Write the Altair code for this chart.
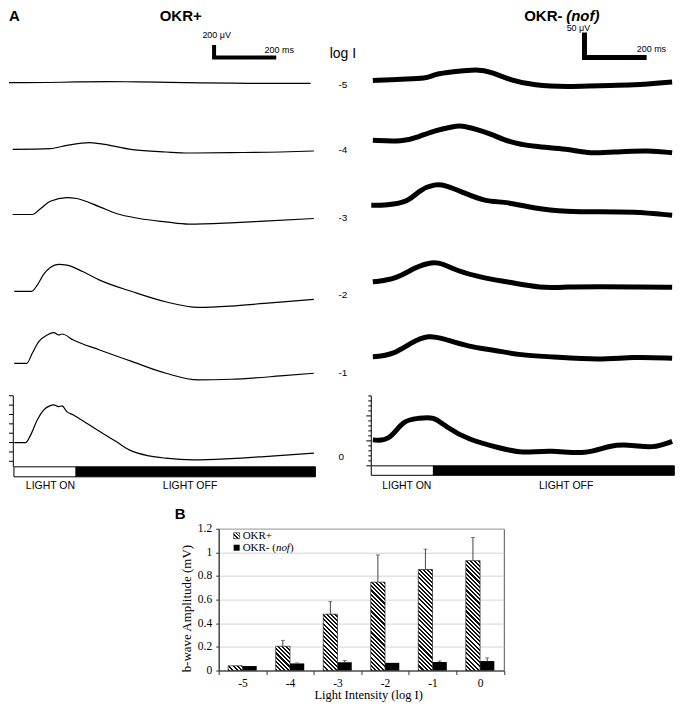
import altair as alt
import pandas as pd

# ---------------- Panel A data: time (ms from light onset) and response (uV, relative to baseline)
levels = ["-5", "-4", "-3", "-2", "-1", "0"]

okr_plus_t = [
    [-16, 100, 200, 300, 400, 500, 600, 700, 800, 955],
    [-4, 117, 171, 244, 276, 381, 489, 562, 698, 857, 965],
    [-4, 59, 86, 117, 170, 202, 276, 329, 403, 488, 562, 698, 806, 965],
    [1, 57, 75, 96, 117, 144, 170, 223, 276, 382, 488, 594, 698, 806, 965],
    [1, 41, 59, 80, 107, 128, 144, 155, 191, 276, 381, 489, 594, 698, 857, 965],
    [1, 38, 54, 75, 96, 117, 128, 144, 155, 170, 191, 234, 276, 329, 371, 435, 488, 578, 698, 806, 965],
]
okr_plus_v = [
    [0, 3, 12, 16, 14, 6, -2, -8, -10, -10],
    [0, 11, 64, 107, 91, -5, -43, -59, -53, -43, -27],
    [0, 0, 96, 213, 272, 256, 122, 16, -64, -118, -155, -134, -107, -64],
    [0, 0, 101, 277, 384, 432, 421, 314, 181, -6, -166, -256, -235, -192, -128],
    [0, 0, 160, 346, 453, 490, 453, 469, 373, 213, 26, -160, -267, -256, -203, -160],
    [0, 0, 123, 363, 523, 592, 603, 576, 587, 496, 443, 310, 176, 16, -117, -213, -250, -277, -256, -224, -170],
]
okr_minus_t = [
    [5, 101, 175, 206, 259, 344, 386, 450, 524, 630, 736, 841, 968],
    [5, 101, 153, 206, 259, 291, 333, 386, 439, 524, 630, 704, 789, 894, 968],
    [0, 48, 122, 153, 206, 238, 291, 365, 439, 524, 630, 736, 841, 968],
    [5, 79, 143, 196, 228, 270, 365, 439, 545, 630, 736, 841, 968],
    [5, 69, 132, 185, 228, 312, 397, 482, 577, 736, 841, 968],
    [5, 58, 101, 153, 201, 238, 312, 418, 482, 577, 693, 767, 841, 905, 968],
]
okr_minus_v = [
    [0, 3, 3, 13, 17, 23, 17, 0, -10, -13, -10, -10, -3],
    [0, -3, 7, 20, 27, 30, 23, 13, -3, -13, -17, -27, -23, -20, -25],
    [0, 0, 7, 30, 43, 40, 27, 7, 7, -7, -13, -13, -13, -20],
    [0, 5, 30, 40, 37, 23, 7, 0, -13, -10, -10, -10, -11],
    [0, 3, 30, 43, 37, 20, 13, 3, 0, -7, 0, -3],
    [2, -1, 42, 45, 49, 29, 2, -15, -25, -18, -28, -8, -8, -15, -1],
]

# ---------------- Panel B data
cats = ["-5", "-4", "-3", "-2", "-1", "0"]
series = ["OKR+", "OKR-"]
okr_plus_mean = [0.04, 0.205, 0.477, 0.748, 0.855, 0.93]
okr_plus_err = [0.0, 0.05, 0.106, 0.23, 0.172, 0.196]
okr_minus_mean = [0.038, 0.06, 0.07, 0.065, 0.072, 0.08]
okr_minus_err = [0.0, 0.004, 0.015, 0.0, 0.008, 0.027]

# ---------------- layout constants (pixels of the figure)
SANS = "Liberation Sans"
SERIF = "Liberation Serif"
SX = 666.0 / 674.0         # horizontal squeeze so the page never overflows
T_PX = 63 / 200.0          # px per ms (both columns, before squeeze)
KL, KR = 0.0625, 0.5       # px per uV (left, right)
TOP_H = 514
LEFT_IMG_W, RIGHT_IMG_W = 352, 322
L_X0, R_X0 = 8, 360        # image x of column origins
L_ON, R_ON = 13, 375       # image x of light onset
left_base = [82.3, 149, 214.3, 291.3, 363.3, 442.7]
right_base = [80, 140, 205, 281.7, 356.7, 441]


def xl(px):
    return (px - L_ON) / T_PX


def xr(px):
    return (px - R_ON) / T_PX


def yl(row):
    return (TOP_H + 8 - row) / KL


def yr(row):
    return (TOP_H + 8 - row) / KR


def column(ts, vs, bases, xf, yf, k, x0, width, stroke_w, interp):
    xs = alt.Scale(domain=[xf(x0), xf(x0 + width)], nice=False, zero=False)
    ys = alt.Scale(domain=[0, TOP_H / k], nice=False, zero=False)
    X = lambda f: alt.X(f, type="quantitative", scale=xs, axis=None)
    Y = lambda f: alt.Y(f, type="quantitative", scale=ys, axis=None)
    rows = []
    for lev, t, v, b in zip(levels, ts, vs, bases):
        for ti, vi in zip(t, v):
            rows.append({"level": lev, "t": ti, "y": yf(b) + vi})
    traces = alt.Chart(pd.DataFrame(rows)).mark_line(
        color="black", strokeWidth=stroke_w, interpolate=interp, strokeJoin="round"
    ).encode(x=X("t"), y=Y("y"), detail="level:N")
    return traces, X, Y


def texts(rows, X, Y, **mk):
    df = pd.DataFrame(rows, columns=["label", "px", "py"])
    return alt.Chart(df).mark_text(color="black", font=SANS, **mk).encode(
        x=X("px"), y=Y("py"), text="label:N")


# ----- left column (OKR+)
tr_l, XL, YL = column(okr_plus_t, okr_plus_v, left_base, xl, yl, KL, L_X0, LEFT_IMG_W, 1.2, "monotone")
b0 = yl(left_base[-1])
ax_l = pd.DataFrame(
    [{"t": -2, "t2": -2, "y": b0 - 390, "y2": b0 + 750}]
    + [{"t": xl(8), "t2": -2, "y": b0 + v, "y2": b0 + v} for v in range(-300, 751, 150)]
)
axis_l = alt.Chart(ax_l).mark_rule(color="black", strokeWidth=1).encode(
    x=XL("t"), x2="t2", y=YL("y"), y2="y2")
light_l = pd.DataFrame([
    {"t": 0, "t2": 200, "y": yl(477), "y2": yl(467), "c": "on"},
    {"t": 200, "t2": 970, "y": yl(477), "y2": yl(467), "c": "off"},
])
lightbar_l = alt.Chart(light_l).mark_rect(stroke="black", strokeWidth=1).encode(
    x=XL("t"), x2="t2", y=YL("y"), y2="y2",
    fill=alt.Fill("c:N", scale=alt.Scale(domain=["on", "off"], range=["white", "black"]), legend=None))
sb_l = pd.DataFrame({"t": [644, 644, 844], "y": [yl(57) + 200, yl(57), yl(57)], "o": [0, 1, 2]})
scalebar_l = alt.Chart(sb_l).mark_line(color="black", strokeWidth=4, strokeJoin="miter").encode(
    x=XL("t"), y=YL("y"), order="o:Q")

left = alt.layer(
    tr_l, axis_l, lightbar_l, scalebar_l,
    texts([("A", xl(8), yl(8))], XL, YL, fontSize=15, fontWeight="bold", align="left", baseline="top"),
    texts([("B", xl(176), yl(522))], XL, YL, fontSize=15, fontWeight="bold", align="left",
          baseline="bottom"),
    texts([("OKR+", xl(182), yl(8))], XL, YL, fontSize=15, fontWeight="bold",
          align="center", baseline="top"),
    texts([("200 \u03bcV", xl(204), yl(34.5)), ("200 ms", xl(267), yl(49.5))], XL, YL,
          fontSize=9, align="left", baseline="middle"),
    texts([("log I", xl(333), yl(58))], XL, YL, fontSize=14, align="left", baseline="alphabetic"),
    texts([(lv, xl(342), yl(r)) for lv, r in zip(levels, [84.5, 150, 217.5, 294.5, 373.5, 457])],
          XL, YL, fontSize=10, align="left", baseline="middle"),
    texts([("LIGHT ON", xl(50), yl(486)), ("LIGHT OFF", xl(191.5), yl(486))], XL, YL,
          fontSize=10.5, align="center", baseline="middle"),
).properties(width=LEFT_IMG_W * SX, height=TOP_H)

# ----- right column (OKR- nof)
tr_r, XR, YR = column(okr_minus_t, okr_minus_v, right_base, xr, yr, KR, R_X0, RIGHT_IMG_W, 5, "basis")
r0 = yr(right_base[-1])
ax_r = pd.DataFrame(
    [{"t": 0, "t2": 0, "y": r0 - 50, "y2": r0 + 90}]
    + [{"t": xr(375 - (5 if v % 50 == 0 else 3)), "t2": 0, "y": r0 + v, "y2": r0 + v}
       for v in range(-50, 91, 10)]
)
axis_r = alt.Chart(ax_r).mark_rule(color="black", strokeWidth=1).encode(
    x=XR("t"), x2="t2", y=YR("y"), y2="y2")
light_r = pd.DataFrame([
    {"t": 0, "t2": 200, "y": yr(475.5), "y2": yr(466), "c": "on"},
    {"t": 200, "t2": 975, "y": yr(475.5), "y2": yr(466), "c": "off"},
])
lightbar_r = alt.Chart(light_r).mark_rect(stroke="black", strokeWidth=1).encode(
    x=XR("t"), x2="t2", y=YR("y"), y2="y2",
    fill=alt.Fill("c:N", scale=alt.Scale(domain=["on", "off"], range=["white", "black"]), legend=None))
sb_r = pd.DataFrame({"t": [686, 686, 886], "y": [yr(57) + 50, yr(57), yr(57)], "o": [0, 1, 2]})
scalebar_r = alt.Chart(sb_r).mark_line(color="black", strokeWidth=5, strokeJoin="miter").encode(
    x=XR("t"), y=YR("y"), order="o:Q")

right = alt.layer(
    tr_r, axis_r, lightbar_r, scalebar_r,
    texts([("OKR- ", xr(530), yr(8))], XR, YR, fontSize=15, fontWeight="bold",
          align="left", baseline="top"),
    texts([("(nof)", xr(572.5), yr(8))], XR, YR, fontSize=15, fontWeight="bold",
          fontStyle="italic", align="left", baseline="top"),
    texts([("50 \u03bcV", xr(573), yr(27.5)), ("200 ms", xr(644), yr(48.5))], XR, YR,
          fontSize=9, align="left", baseline="middle"),
    texts([("LIGHT ON", xr(411), yr(486)), ("LIGHT OFF", xr(572.5), yr(486))], XR, YR,
          fontSize=10.5, align="center", baseline="middle"),
).properties(width=RIGHT_IMG_W * SX, height=TOP_H)

top = alt.hconcat(left, right, spacing=0, bounds="flush")

# ---------------- Panel B: bar chart
BW, BH, YMAX = 289 * SX, 142, 1.2
OFF_PAD = 2 / 3.0
bar_w = (BW / len(cats)) / (2 + 2 * OFF_PAD)


def hatch(w, h, period=4.2, duty=0.5):
    c = (w + h) / (w * w + h * h)
    n = (w + h) / period
    stops, k = [], 0
    while k < n:
        s0, s1, s2 = k / n, min((k + duty) / n, 1.0), min((k + 1) / n, 1.0)
        stops += [{"offset": round(s0, 5), "color": "#111111"},
                  {"offset": round(s1, 5), "color": "#111111"},
                  {"offset": round(s1, 5), "color": "#ffffff"},
                  {"offset": round(s2, 5), "color": "#ffffff"}]
        k += 1
    return {"gradient": "linear", "x1": 0, "y1": 1,
            "x2": round(w * c, 5), "y2": round(1 - h * c, 5), "stops": stops}


bar_rows = []
for c, m, e in zip(cats, okr_plus_mean, okr_plus_err):
    bar_rows.append({"cat": c, "series": "OKR+", "value": m, "upper": m + e, "err": e})
for c, m, e in zip(cats, okr_minus_mean, okr_minus_err):
    bar_rows.append({"cat": c, "series": "OKR-", "value": m, "upper": m + e, "err": e})
bdf = pd.DataFrame(bar_rows)

xaxis = alt.Axis(title=None, labelAngle=0, tickBand="extent", tickSize=4,
                 tickColor="#333", domainColor="#333", labelFont=SERIF, labelFontSize=11.5,
                 labelColor="black", labelPadding=3, grid=False)
yaxis = alt.Axis(title=None, values=[0, 0.2, 0.4, 0.6, 0.8, 1.0, 1.2],
                 format=".1~f", grid=True, gridColor="#d4d4d4", tickSize=3, tickColor="#333",
                 domainColor="#333", labelFont=SERIF, labelFontSize=11.5, labelColor="black",
                 labelPadding=4)
X = alt.X("cat:N", sort=cats, scale=alt.Scale(domain=cats, paddingInner=0, paddingOuter=0), axis=xaxis)
XO = alt.XOffset("series:N", scale=alt.Scale(domain=series, paddingInner=0, paddingOuter=OFF_PAD))
YS = alt.Scale(domain=[0, YMAX], nice=False)
Yv = alt.Y("value:Q", scale=YS, axis=yaxis)

base = alt.Chart(bdf)
layers = [base.mark_bar(color="black").encode(x=X, xOffset=XO, y=Yv)
          .transform_filter(alt.datum.series == "OKR-")]
for c, m in zip(cats, okr_plus_mean):
    g = hatch(bar_w, m * BH / YMAX)
    layers.append(base.mark_bar(fill=g, stroke="#222", strokeWidth=0.7)
                  .encode(x=X, xOffset=XO, y=Yv)
                  .transform_filter((alt.datum.series == "OKR+") & (alt.datum.cat == c)))
layers.append(base.mark_rule(color="#444", strokeWidth=1)
              .encode(x=X, xOffset=XO, y=Yv, y2="upper:Q")
              .transform_filter(alt.datum.err > 0))
layers.append(base.mark_tick(color="#444", size=4, thickness=1)
              .encode(x=X, xOffset=XO, y=alt.Y("upper:Q", scale=YS, axis=yaxis))
              .transform_filter(alt.datum.err > 0))

one = pd.DataFrame({"a": [0]})
lg = alt.Chart(one)
layers += [
    lg.mark_rect(fill=hatch(6, 6, period=3.6), stroke="#222", strokeWidth=0.6).encode(
        x=alt.value(15), x2=alt.value(21), y=alt.value(4), y2=alt.value(10)),
    lg.mark_rect(fill="black").encode(
        x=alt.value(15), x2=alt.value(21), y=alt.value(16), y2=alt.value(22)),
    lg.mark_text(font=SERIF, fontSize=11, align="left", baseline="middle", color="black").encode(
        x=alt.value(24), y=alt.value(7), text=alt.value("OKR+")),
    lg.mark_text(font=SERIF, fontSize=11, align="left", baseline="middle", color="black").encode(
        x=alt.value(24), y=alt.value(19), text=alt.value("OKR- (")),
    lg.mark_text(font=SERIF, fontSize=11, fontStyle="italic", align="left", baseline="middle",
                 color="black").encode(x=alt.value(57.3), y=alt.value(19), text=alt.value("nof")),
    lg.mark_text(font=SERIF, fontSize=11, align="left", baseline="middle", color="black").encode(
        x=alt.value(71.4), y=alt.value(19), text=alt.value(")")),
    # axis titles (placed like the original Excel chart)
    lg.mark_text(font=SERIF, fontSize=12.5, align="center", baseline="middle", color="black").encode(
        x=alt.value(152 * SX), y=alt.value(BH + 25), text=alt.value("Light Intensity (log I)")),
    lg.mark_text(font=SERIF, fontSize=13, align="center", baseline="middle", angle=270,
                 color="black").encode(
        x=alt.value(-32), y=alt.value(80), text=alt.value("b-wave Amplitude (mV)")),
]

bars = alt.layer(*layers).properties(
    width=BW, height=BH, view=alt.ViewBackground(stroke="#555", strokeWidth=1))

spacer = alt.Chart(one).mark_point(opacity=0).encode(
    x=alt.value(100), y=alt.value(70)).properties(width=212 * SX, height=BH)

bottom = alt.hconcat(spacer, bars, spacing=0, bounds="flush")

chart = alt.vconcat(top, bottom, spacing=0).properties(
    padding=0).configure_view(stroke=None)

chart.save("out.html", embed_options={"renderer": "svg", "actions": False})
